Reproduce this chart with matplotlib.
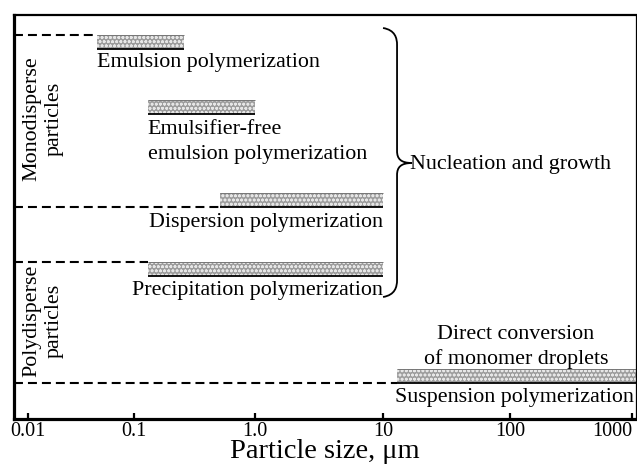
import numpy as np
import matplotlib
matplotlib.use("Agg")
import matplotlib.pyplot as plt
from matplotlib.path import Path
from matplotlib.patches import PathPatch
from matplotlib.transforms import IdentityTransform, blended_transform_factory

plt.rcParams['font.family'] = ['Liberation Serif', 'DejaVu Serif']
plt.rcParams['hatch.linewidth'] = 0.8

# size ranges (um) of each polymerization method
methods = ['Emulsion', 'Emulsifier-free emulsion', 'Dispersion', 'Precipitation', 'Suspension']
size_lo = [0.045, 0.13, 0.51, 0.13, 13]
size_hi = [0.26, 1.0, 10, 10, 1200]

tick_values = [0.01, 0.1, 1, 10, 100, 1000]
tick_labels = ['0.01', '0.1', '1.0', '10', '100', '1000']

# hand-drawn decade axis: uneven decade widths
knot_log = [-3, -2, -1, 0, 1, 2, 3, 4]
knot_pos = [-78, 28, 134, 255, 383, 510, 632, 754]

def forward(x):
    x = np.clip(np.asarray(x, dtype=float), 1e-6, None)
    return np.interp(np.log10(x), knot_log, knot_pos)

def inverse(p):
    return 10 ** np.interp(p, knot_pos, knot_log)

# vertical layout (y grows downward), bar top edges
bar_top = [35, 100, 193, 262, 369]
bar_h = 14

W, H = 637, 465
fig = plt.figure(figsize=(W / 100, H / 100), dpi=100)
ax = fig.add_axes([13.5 / W, (H - 418.5) / H, (635.5 - 13.5) / W, (418.5 - 15) / H])
ax.set_xscale('function', functions=(forward, inverse))
ax.set_xlim(inverse(13.5), inverse(635.5))
ax.set_ylim(418.5, 15)

for side, lw in [('left', 2.3), ('bottom', 2.3), ('top', 1.6), ('right', 0.9)]:
    ax.spines[side].set_linewidth(lw)

ax.set_xticks(tick_values)
ax.set_xticklabels(tick_labels, fontsize=14.5)
ax.get_xticklabels()[-1].set_horizontalalignment('right')
ax.xaxis.set_minor_locator(matplotlib.ticker.NullLocator())
ax.tick_params(axis='x', direction='in', length=4.5, width=1.6, pad=2.5)
ax.set_yticks([])
ax.set_xlabel('Particle size, \u03bcm', fontsize=20.5, labelpad=-1.5)

# bars
for lo, hi, top in zip(size_lo, size_hi, bar_top):
    ax.barh(top + bar_h / 2, hi - lo, left=lo, height=bar_h,
            color='#9c9c9c', edgecolor='#e6e6e6', linewidth=0, hatch='oooo')
    ax.hlines(top, lo, hi, color='#777777', linewidth=0.7)
    ax.hlines(top + bar_h, lo, hi, color='black', linewidth=1.3)

# dashed boundaries of the mono/polydisperse regions
dash_kw = dict(color='black', linewidth=1.5, linestyle=(0, (4.3, 2.4)))
x0 = ax.get_xlim()[0]
ax.hlines(bar_top[0], x0, size_lo[0], **dash_kw)
ax.hlines(bar_top[2] + bar_h, x0, size_lo[2], **dash_kw)
ax.hlines(bar_top[3], x0, size_lo[3], **dash_kw)
ax.hlines(bar_top[4] + bar_h, x0, size_lo[4], **dash_kw)

fs = 15.8
ax.text(size_lo[0], 63, 'Emulsion polymerization', fontsize=fs, ha='left', va='center')
ax.text(size_lo[1], 142, 'Emulsifier-free\nemulsion polymerization', fontsize=fs,
        ha='left', va='center', linespacing=1.38)
ax.text(size_hi[2], 222, 'Dispersion polymerization', fontsize=fs, ha='right', va='center')
ax.text(size_hi[3], 290, 'Precipitation polymerization', fontsize=fs, ha='right', va='center')
ax.text(inverse(395), 397, 'Suspension polymerization', fontsize=fs, ha='left', va='center')
ax.text(112, 347, 'Direct conversion\nof monomer droplets', fontsize=fs,
        ha='center', va='center', linespacing=1.35)

# side labels, x given in axes fraction
side = blended_transform_factory(ax.transAxes, ax.transData)
ax.text(0.048, 119, 'Monodisperse\nparticles', fontsize=fs, rotation=90, transform=side,
        ha='center', va='center', linespacing=1.25)
ax.text(0.048, 321, 'Polydisperse\nparticles', fontsize=fs, rotation=90, transform=side,
        ha='center', va='center', linespacing=1.25)

# right curly brace grouping the nucleation-and-growth methods
def to_px(x, y):
    return ax.transData.transform((x, y))

bx, ytop = to_px(12.9, 28)
_, ybot = to_px(12.9, 297)
_, ymid = to_px(12.9, 163)
curl, tip = 14, 15
verts = [
    (bx - curl, ytop), (bx - 2, ytop - 2), (bx, ytop - 10), (bx, ytop - 17),
    (bx, ymid + 12),
    (bx, ymid + 4), (bx + 4, ymid), (bx + tip, ymid),
    (bx + 4, ymid), (bx, ymid - 4), (bx, ymid - 12),
    (bx, ybot + 17),
    (bx, ybot + 10), (bx - 2, ybot + 2), (bx - curl, ybot),
]
codes = [Path.MOVETO, Path.CURVE4, Path.CURVE4, Path.CURVE4,
         Path.LINETO,
         Path.CURVE4, Path.CURVE4, Path.CURVE4,
         Path.CURVE4, Path.CURVE4, Path.CURVE4,
         Path.LINETO,
         Path.CURVE4, Path.CURVE4, Path.CURVE4]
brace = PathPatch(Path(verts, codes), facecolor='none', edgecolor='black',
                  linewidth=1.3, transform=IdentityTransform(), clip_on=False)
ax.add_artist(brace)
ax.text(16.3, 165, 'Nucleation and growth', fontsize=fs, ha='left', va='center')

fig.savefig('out.png', dpi=100)
